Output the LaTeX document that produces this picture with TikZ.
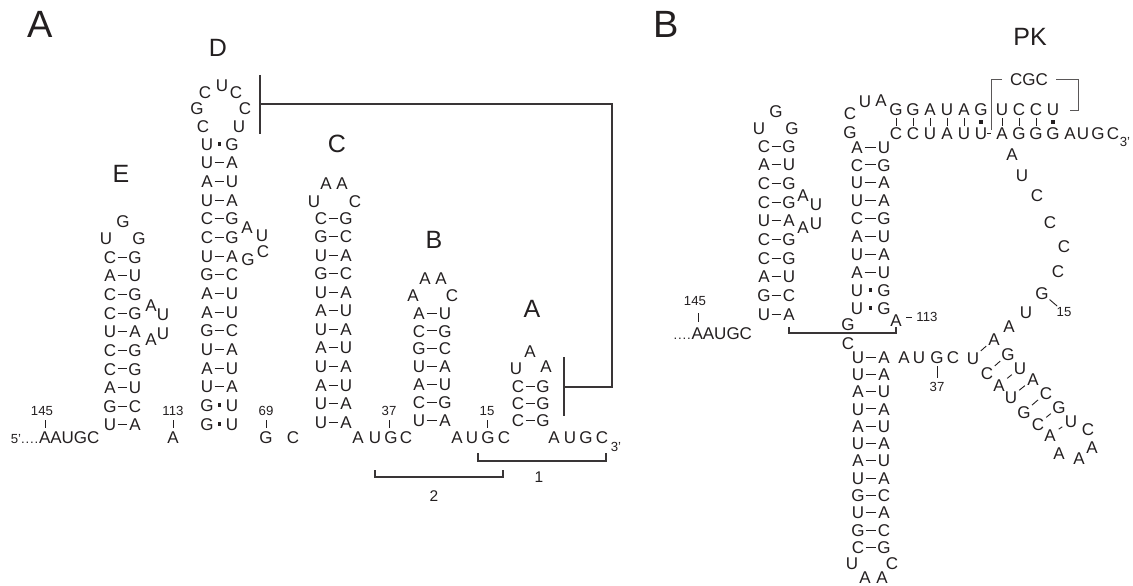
\documentclass[tikz,border=0pt]{standalone}
\usepackage{fontspec}
\setmainfont{Liberation Sans}
\usetikzlibrary{calc}
\definecolor{ink}{HTML}{231F20}
\tikzset{
  nt/.style={inner sep=0pt,outer sep=0pt,text=ink,font=\fontsize{17}{17}\selectfont,text height=12.2pt,text depth=0pt},
  num/.style={inner sep=0pt,outer sep=0pt,text=ink,font=\fontsize{13.2}{14}\selectfont,text height=9.4pt,text depth=0pt},
  lbl/.style={inner sep=0pt,outer sep=0pt,text=ink,font=\fontsize{15.5}{16}\selectfont,text height=11.2pt,text depth=0pt},
  ttl/.style={inner sep=0pt,outer sep=0pt,text=ink,font=\fontsize{25}{26}\selectfont,text height=18pt,text depth=0pt},
  bigttl/.style={inner sep=0pt,outer sep=0pt,text=ink,font=\fontsize{38}{39}\selectfont,text height=27.4pt,text depth=0pt},
  pairline/.style={draw=ink,line width=0.9pt,shorten <=7.7pt,shorten >=7.7pt},
  diagline/.style={draw=ink,line width=0.9pt,shorten <=10.5pt,shorten >=10.5pt},
  tickline/.style={draw=ink,line width=0.9pt,shorten <=9pt,shorten >=9pt},
  rowtick/.style={draw=ink,line width=0.9pt,shorten <=9pt,shorten >=7pt},
  wire/.style={draw=ink!90,line width=1.3pt},
  thinwire/.style={draw=ink!75,line width=1pt},
  bp/.style={fill=ink,inner sep=0pt,minimum size=3.8pt,rectangle}
}
% stem: prefix, x left, x right, y top, pitch, rows L/R/kind (p = line, d = square)
\newcommand{\stemrows}[6]{%
  \foreach \l/\r/\k [count=\i from 0] in {#6}{%
    \pgfmathsetmacro{\yy}{#4+\i*#5}
    \node[nt] (#1l\i) at (#2,\yy) {\l};
    \node[nt] (#1r\i) at (#3,\yy) {\r};
    \if\k p
      \draw[pairline] (#1l\i.center) -- (#1r\i.center);
    \else
      \node[bp] (#1d\i) at ($(#1l\i)!.5!(#1r\i)$) {};
    \fi
  }%
}
% free letters: prefix, list x/y/letter
\newcommand{\letters}[2]{%
  \foreach \x/\y/\t [count=\i] in {#2}{\node[nt] (#1\i) at (\x,\y) {\t};}%
}
\newcommand{\sdots}{.\kern0.8pt.\kern0.8pt.\kern0.8pt.\kern0.8pt}
\begin{document}
\begin{tikzpicture}[x=1pt,y=-1pt]
\useasboundingbox (0,0) rectangle (1133,586);

% ---------- Panel A ----------
\node[bigttl] (panelA) at (40,24) {A};
\node[ttl] (tD) at (218,48) {D};
\node[ttl] (tE) at (121,173) {E};
\node[ttl] (tC) at (337,143) {C};
\node[ttl] (tB) at (434,239) {B};
\node[ttl] (tA) at (532,308) {A};

% E hairpin
\letters{eL}{123/221/G,106/238/U,139/238/G,151/305/A,163/314/U,163/333/U,151/339/A}
\stemrows{e}{110}{135}{257}{18.65}{C/G/p,A/U/p,C/G/p,C/G/p,U/A/p,C/G/p,C/G/p,A/U/p,G/C/p,U/A/p}
% D hairpin
\letters{dL}{203/126/C,197/108/G,205/92/C,222/85/U,236/92/C,245/108/C,239/126/U,247/227/A,262/235/U,263/251/C,248/259/G}
\stemrows{d}{207}{232}{144}{18.67}{U/G/d,U/A/p,A/U/p,U/A/p,C/G/p,C/G/p,U/A/p,G/C/p,A/U/p,A/U/p,G/C/p,U/A/p,A/U/p,U/A/p,G/U/d,G/U/d}
% C hairpin
\letters{cL}{326/183/A,342/183/A,314/201/U,355/201/C}
\stemrows{c}{321}{346}{218}{18.55}{C/G/p,G/C/p,U/A/p,G/C/p,U/A/p,A/U/p,U/A/p,A/U/p,U/A/p,A/U/p,U/A/p,U/A/p}
% B hairpin
\letters{bL}{425/278/A,441/278/A,413/295/A,452/295/C}
\stemrows{b}{419}{445}{313}{17.9}{A/U/p,C/G/p,G/C/p,U/A/p,A/U/p,C/G/p,U/A/p}
% A hairpin
\letters{aL}{516/368/U,530/351/A,546/366/A}
\stemrows{a}{518}{543}{386}{17}{C/G/p,C/G/p,C/G/p}

% single-stranded baseline
\node[nt,anchor=east] (fiveA) at (99.5,437) {{\fontsize{13.2}{14}\selectfont 5'\sdots}AAUGC};
\node[nt] (s113) at (173,437) {A};
\node[nt] (s69) at (266,437) {G};
\node[nt] (s69c) at (293,437) {C};
\letters{sa}{358/437/A,375/437/U,391/437/G,406/437/C}
\letters{sb}{457/437/A,472/437/U,488/437/G,504/437/C}
\letters{sc}{554/437/A,570/437/U,586/437/G,602/437/C}
\node[num] (threeA) at (616,447) {3'};

\coordinate (a145) at (45,437);
\node[num] (n145) at (42,411) {145};
\node[num] (n113) at (173,411) {113};
\node[num] (n69) at (266,411) {69};
\node[num] (n37) at (389,411) {37};
\node[num] (n15) at (487,411) {15};
\draw[tickline] (a145 |- n145.center) -- (a145);
\draw[tickline] (n113.center) -- (s113.center);
\draw[tickline] (n69.center) -- (s69.center);
\draw[tickline] (n37.center) -- (n37.center |- s113.center);
\draw[tickline] (n15.center) -- (n15.center |- s113.center);

% pseudoknot line
\coordinate (dT) at (260,75);
\coordinate (dB) at (260,134);
\coordinate (dM) at (260,104);
\coordinate (cr1) at (612,104);
\coordinate (cr2) at (612,387);
\coordinate (aM) at (564,387);
\coordinate (aT) at (564,357);
\coordinate (aB) at (564,416);
\draw[wire] (dT) -- (dB);
\draw[wire] (aT) -- (aB);
\draw[wire] (dM) -- (cr1) -- (cr2) -- (aM);

% brackets
\coordinate (b1a) at (478,453);
\coordinate (b1b) at (606,453);
\coordinate (b2a) at (375,470);
\coordinate (b2b) at (503,470);
\draw[wire] (b1a) -- ++(0,8) -| (b1b);
\draw[wire] (b2a) -- ++(0,7) -| (b2b);
\node[lbl] (lab1) at (539,477) {1};
\node[lbl] (lab2) at (434,496) {2};

% ---------- Panel B ----------
\node[bigttl] (panelB) at (666,24) {B};
\node[ttl] (tPK) at (1030,37) {PK};

% left hairpin
\letters{fL}{776/111/G,759/128/U,792/128/G,803/195/A,816/204/U,816/223/U,803/227/A}
\stemrows{f}{764}{789}{146}{18.67}{C/G/p,A/U/p,C/G/p,C/G/p,U/A/p,C/G/p,C/G/p,A/U/p,G/C/p,U/A/p}
\node[nt,anchor=east] (dotsB) at (752,333) {{\fontsize{13.2}{14}\selectfont \sdots}AAUGC};
\coordinate (b145) at (698,333);
\node[num] (m145) at (695,301) {145};
\draw[draw=ink,line width=0.9pt,shorten <=12pt,shorten >=11pt] (b145 |- m145.center) -- (b145);

% upper right stem
\letters{gL}{850/113/C,865/101/U,881/100/A,850/132/G}
\stemrows{g}{857}{884}{147}{17.9}{A/U/p,C/G/p,U/A/p,U/A/p,C/G/p,A/U/p,U/A/p,A/U/p,U/G/d,U/G/d}

% junction
\node[nt] (jG) at (848,324) {G};
\node[nt] (jA) at (896,320) {A};
\node[nt] (jC) at (848,343) {C};
\node[num] (m113) at (927,317) {113};
\coordinate (m113a) at (906,317);
\coordinate (m113b) at (912,317);
\draw[draw=ink,line width=0.9pt] (m113a) -- (m113b);
\coordinate (j1) at (789,327);
\coordinate (j2) at (896,327);
\draw[wire] (j1) -- ++(0,6) -| (j2);

% pseudoknot helix
\foreach \x/\t/\u/\k [count=\i] in {896/G/C/p,913/G/C/p,930/A/U/p,947/U/A/p,964/A/U/p,981/G/U/d,1002/U/A/p,1019/C/G/p,1036/C/G/p,1053/U/G/d}{
  \node[nt] (pt\i) at (\x,109) {\t};
  \node[nt] (pb\i) at (\x,133) {\u};
  \if\k p
    \draw[rowtick] (pt\i.center) -- (pb\i.center);
  \else
    \node[bp] (pd\i) at ($(pt\i)!.55!(pb\i)$) {};
  \fi
}
\letters{ph}{1070/133/A,1083/133/U,1098/133/G,1113/133/C}
\node[num] (threeB) at (1125,142) {3'};
\draw[draw=ink,line width=0.9pt,shorten <=6pt,shorten >=11pt] (pb6.center) -- (pb7.center);

% CGC bracket
\node[nt] (cgc) at (1029,79) {CGC};
\coordinate (k1) at (1002,80);
\coordinate (k2) at (991,80);
\coordinate (k3) at (991,130);
\coordinate (k4) at (1056,80);
\coordinate (k5) at (1078,80);
\coordinate (k6) at (1078,110);
\coordinate (k7) at (1070,110);
\draw[thinwire] (k1) -- (k2) -- (k3);
\draw[thinwire] (k4) -- (k5) -- (k6) -- (k7);

% linker and small hairpin
\letters{t}{1012/154/A,1022/175/U,1037/195/C,1050/222/C,1064/246/C,1058/271/C,1042/293/G,1026/312/U,1009/326/A}
\node[num] (m15) at (1064,312) {15};
\draw[draw=ink,line width=0.9pt,shorten <=10pt,shorten >=9pt] (t7.center) -- (m15.center);
\foreach \xa/\ya/\la/\xb/\yb/\lb [count=\i] in {973/358/U/994/339/A,987/373/C/1008/354/G,999/385/A/1020/368/U,1011/397/U/1033/379/A,1024/412/G/1046/393/C,1038/424/C/1059/407/G,1050/435/A/1071/421/U}{
  \node[nt] (ql\i) at (\xa,\ya) {\la};
  \node[nt] (qr\i) at (\xb,\yb) {\lb};
  \draw[diagline] (ql\i.center) -- (qr\i.center);
}
\letters{w}{1088/429/C,1092/447/A,1079/458/A,1059/453/A}

% lower stem
\stemrows{h}{858}{884}{357}{17.3}{U/A/p,U/A/p,A/U/p,U/A/p,A/U/p,U/A/p,A/U/p,U/A/p,G/C/p,U/A/p,G/C/p,C/G/p}
\letters{hL}{852/563/U,892/563/C,865/577/A,882/577/A}
\letters{v}{904/357/A,919/357/U,937/357/G,953/357/C}
\node[num] (m37) at (937,387) {37};
\draw[tickline] (v3.center) -- (m37.center);
\end{tikzpicture}
\end{document}
